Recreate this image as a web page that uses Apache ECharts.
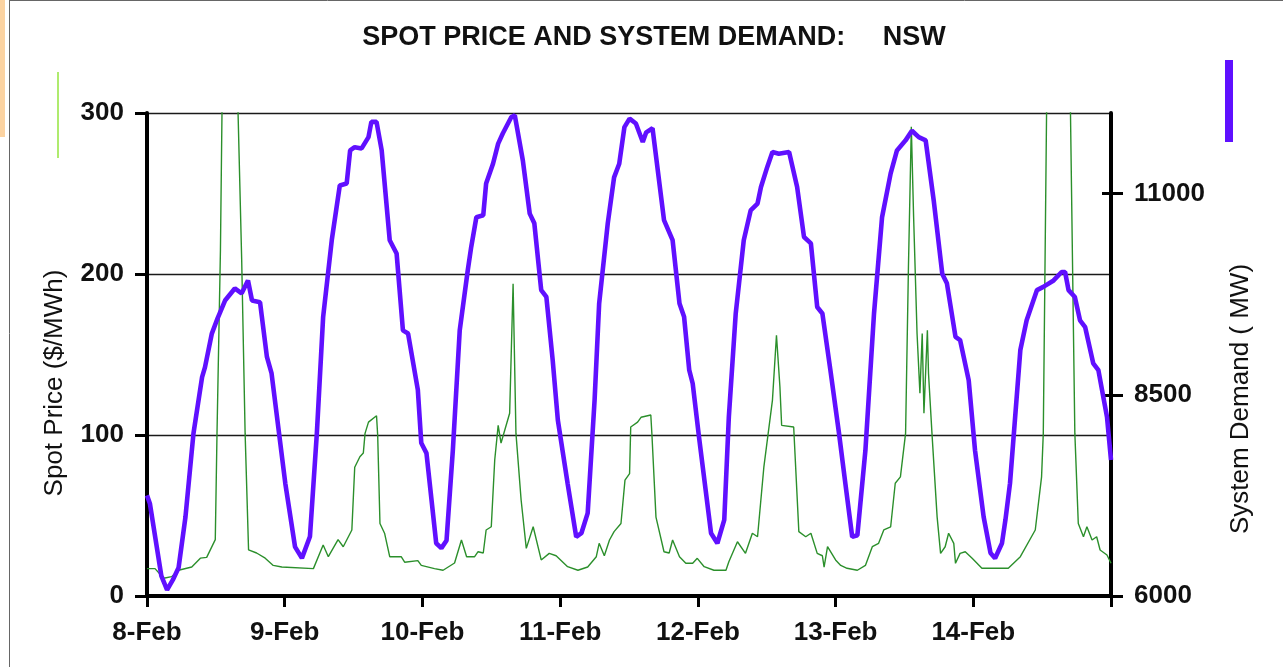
<!DOCTYPE html>
<html>
<head>
<meta charset="utf-8">
<script src="https://cdn.jsdelivr.net/npm/echarts@6.0.0/dist/echarts.min.js"></script>
<style>
  html, body { margin: 0; padding: 0; background: #fff; }
  #chart { width: 1283px; height: 667px; }
</style>
</head>
<body>
<div id="chart"></div>
<script>
// x axis runs in hours from 8-Feb 00:00
const dayLabels = ["8-Feb", "9-Feb", "10-Feb", "11-Feb", "12-Feb", "13-Feb", "14-Feb"];
const demandTicks = [6000, 8500, 11000];

// system demand (MW)
const demandHours = [
  0, 0.5, 1.5, 2.5, 3.5, 4.5, 5.5, 6.7, 8.1, 9.6, 10.1, 11.3, 12.3, 13.6, 15.3, 16.5, 17.6, 18.3,
  19.7, 20.9, 21.7, 24.1, 25.8, 27, 28.4, 29.6, 30.7, 32.2, 33.6, 34.8, 35.4, 36.2, 37.4, 38.6,
  39.1, 40, 40.9, 42.3, 43.5, 44.6, 45.5, 47.2, 47.8, 48.7, 50.4, 51.3, 52.2, 53.3, 54.5, 55.9,
  56.5, 57.4, 58.6, 59.1, 60.3, 61.2, 62, 63.5, 64.1, 65.5, 66.7, 67.5, 68.7, 69.6, 70.7, 71.6,
  73.3, 74.8, 75.7, 76.8, 78, 78.8, 80.3, 81.4, 82.3, 83.2, 84.1, 85.2, 86.4, 87, 88.1, 90.1,
  91.6, 92.8, 93.6, 94.5, 95.1, 96.2, 98.3, 99.4, 100.6, 101.4, 102.6, 104, 105.2, 106.4, 107,
  108.1, 109, 110.1, 111.9, 113.3, 114.5, 115.7, 116.8, 117.7, 119.1, 120.6, 121.7, 122.9, 123.8,
  125.2, 126.7, 128.1, 129.6, 130.7, 132.2, 133.3, 134.5, 135.7, 137.1, 138.6, 139.4, 140.9,
  141.7, 143.2, 144.3, 145.8, 147, 147.8, 149, 149.6, 150.4, 152.2, 153.3, 155.1, 156.2, 158,
  159.4, 160, 160.6, 161.7, 162.6, 163.5, 164.9, 165.8, 167.3, 168
];
const demandMW = [
  7250, 7150, 6700, 6250, 6075, 6200, 6350, 6980, 8020, 8720, 8840, 9260, 9450, 9670, 9820, 9760, 9920, 9670,
  9650, 8970, 8770, 7400, 6610, 6470, 6740, 8020, 9470, 10420, 11100, 11125, 11535, 11575, 11560, 11700,
  11890, 11890, 11535, 10420, 10255, 9300, 9260, 8560, 7900, 7775, 6655, 6595, 6690, 7810, 9300, 10045,
  10335, 10705, 10730, 11125, 11370, 11620, 11745, 11950, 11970, 11410, 10750, 10630, 9800, 9715, 8930, 8185,
  7400, 6735, 6780, 7030, 8430, 9635, 10630, 11200, 11370, 11825, 11930, 11870, 11640, 11760, 11810, 10670,
  10420, 9635, 9470, 8805, 8640, 7975, 6780, 6655, 6945, 8225, 9510, 10420, 10790, 10875, 11080,
  11330, 11515, 11495, 11515, 11080, 10460, 10380, 9590, 9510, 8805, 8020, 7400, 6735, 6755,
  7810, 9510, 10705, 11250, 11535, 11660, 11780, 11700, 11660, 10915, 10000, 9885, 9220,
  9180, 8680, 7810, 6985, 6535, 6470, 6655, 6945, 7400, 9055, 9425, 9800, 9840, 9920,
  10025, 10025, 9800, 9715, 9425, 9340, 8890, 8805, 8225, 7690
];

// spot price ($/MWh), green curve; two spikes run off the top of the scale
const priceHours = [
  0, 1.4, 2.9, 4.3, 5.5, 7.8, 9.3, 10.4, 11.9, 12.2, 12.8, 13.1, 13.5, 15.2, 15.8, 16.5, 17.1, 17.7,
  19.1, 20.6, 22, 23.5, 29, 30.7, 31.6, 33.3, 34.2, 35.7, 36.2, 37.1, 37.7, 38, 38.6, 40, 40.2, 40.6,
  41.4, 42.3, 44.3, 44.9, 47.2, 47.8, 50.1, 51.6, 53.6, 54.8, 55.7, 57.1, 57.7, 58.6, 59.1, 60, 60.6,
  61.2, 61.7, 63.2, 63.8, 64.3, 65.2, 66.1, 67.3, 68.7, 70.1, 71.3, 73.3, 75.1, 76.8, 78.3, 78.8,
  79.7, 80.6, 81.4, 82.6, 83.3, 84.1, 84.3, 85.5, 86.1, 87.8, 88, 88.7, 90.1, 91, 91.6, 92.8, 93.9,
  95.1, 95.9, 97.1, 98.8, 100.9, 101.4, 102.9, 104.3, 105.5, 106.4, 107.5, 109, 109.7, 110.3, 110.6,
  112.7, 113.6, 114.8, 115.7, 116.8, 117.7, 118, 118.6, 120, 120.9, 122, 123.8, 125.2, 126.4, 127.5,
  128.4, 129.6, 130.4, 131.3, 132.2, 132.7, 133.2, 133.6, 134.2, 134.7, 135.1, 135.4, 136, 136.2,
  136.8, 137.7, 138.3, 139.1, 139.7, 140.6, 140.9, 141.7, 142.6, 143.8, 145.5, 150.1, 152.2, 154.8,
  155.9, 156.2, 156.8, 157.3, 160.3, 160.9, 161.7, 162.3, 163.2, 163.8, 164.7, 165.5, 166.1, 167.3, 168
];
const priceDollars = [
  17, 17, 11, 12, 16, 18, 23.5, 24, 35, 101, 215, 310, 700, 700, 310, 209, 101, 28.6,
  26.7, 23.5, 19, 18, 17, 31.7, 24.4, 35, 30.6, 41, 80, 86.5, 88.8, 101, 108, 112, 100, 45,
  39, 24.4, 24.4, 21, 22, 19, 17, 16, 20.5, 34.8, 24.4, 24.4, 27.5, 26.7, 41, 43, 84.5,
  106, 95, 113.5, 194, 101, 59.6, 29.6, 43, 22.4, 26.5, 25, 18.2, 16, 18, 24.4, 32.7,
  25, 34.8, 40, 45, 72, 76, 105, 108, 111, 112.4, 100, 49, 27.5, 26.7, 34.8, 24.4, 20.3,
  20.3, 23.4, 18.2, 16, 16, 21.3, 33.7, 26.5, 39, 36.8, 80, 121.7, 162, 130, 106,
  105, 40, 36.8, 39, 26.5, 25, 18, 30.6, 22.4, 19, 17.2, 16, 19, 30.6, 32.7,
  41, 43, 70, 74, 101, 204.5, 291.5, 235.6, 163, 126, 163, 113.5, 165, 138,
  101, 49, 26.5, 30.6, 39, 32.7, 20.3, 26.5, 27.5, 23.4, 17.2, 17.2, 24.4, 41,
  74, 101, 310, 700, 700, 310, 101, 45, 36.8, 43, 34.8, 36.8, 28.6, 25.5, 20.3
];

const FONT = "'Liberation Sans', Arial, sans-serif";
const chart = echarts.init(document.getElementById("chart"));

chart.setOption({
  animation: false,
  backgroundColor: "#ffffff",
  grid: { left: 147, right: 172, top: 113, bottom: 71 },
  xAxis: {
    type: "value",
    min: 0,
    max: 168,
    interval: 24,
    axisLine: { show: true, lineStyle: { color: "#000", width: 4 } },
    axisTick: { show: true, length: 11, lineStyle: { color: "#000", width: 3 } },
    axisLabel: {
      margin: 24,
      color: "#111",
      fontFamily: FONT,
      fontSize: 26,
      fontWeight: "bold",
      formatter: (v) => dayLabels[Math.round(v / 24)] || ""
    },
    splitLine: { show: false }
  },
  yAxis: [
    {
      type: "value",
      min: 0,
      max: 300,
      interval: 100,
      position: "left",
      axisLine: { show: true, lineStyle: { color: "#000", width: 4 } },
      axisTick: { show: true, length: 12, lineStyle: { color: "#000", width: 3 } },
      axisLabel: { margin: 23, color: "#111", fontFamily: FONT, fontSize: 26, fontWeight: "bold" },
      splitLine: { show: true, lineStyle: { color: "#1a1a1a", width: 1.3 } }
    },
    {
      type: "value",
      min: 6000,
      max: 12000,
      position: "right",
      axisLine: { show: true, lineStyle: { color: "#000", width: 4 } },
      axisTick: { show: true, length: 12, customValues: demandTicks, lineStyle: { color: "#000", width: 3 } },
      axisLabel: {
        margin: 23,
        color: "#111",
        fontFamily: FONT,
        fontSize: 26,
        fontWeight: "bold",
        customValues: demandTicks,
        formatter: (v) => String(v)
      },
      splitLine: { show: false }
    },
    {
      // inner half of the cross ticks on the right axis
      type: "value",
      min: 6000,
      max: 12000,
      position: "right",
      axisLine: { show: false },
      axisTick: { show: true, inside: true, length: 9, customValues: demandTicks, lineStyle: { color: "#000", width: 3 } },
      axisLabel: { show: false },
      splitLine: { show: false }
    }
  ],
  series: [
    {
      name: "Spot Price",
      type: "line",
      yAxisIndex: 0,
      showSymbol: false,
      clip: true,
      lineStyle: { color: "#2b8f2b", width: 1.4 },
      data: priceHours.map((h, i) => [h, priceDollars[i]])
    },
    {
      name: "System Demand",
      type: "line",
      yAxisIndex: 1,
      showSymbol: false,
      clip: true,
      lineStyle: { color: "#6010ff", width: 4.6 },
      data: demandHours.map((h, i) => [h, demandMW[i]])
    }
  ],
  graphic: [
    { type: "rect", shape: { x: 0, y: 0, width: 5, height: 137 }, style: { fill: "#fcd3a1" } },
    { type: "line", shape: { x1: 9.5, y1: 0, x2: 9.5, y2: 667 }, style: { stroke: "#666", lineWidth: 1 } },
    { type: "line", shape: { x1: 9, y1: 0.5, x2: 1283, y2: 0.5 }, style: { stroke: "#666", lineWidth: 1 } },
    { type: "line", shape: { x1: 58, y1: 72, x2: 58, y2: 158 }, style: { stroke: "#9be64a", lineWidth: 1.6 } },
    { type: "rect", shape: { x: 1225, y: 60, width: 8, height: 82 }, style: { fill: "#5f10ff" } },
    {
      type: "text",
      x: 654,
      y: 38,
      style: {
        text: "SPOT PRICE AND SYSTEM DEMAND:     NSW",
        fill: "#111",
        font: "bold 27px " + FONT,
        textAlign: "center",
        textVerticalAlign: "middle"
      }
    },
    {
      type: "text",
      x: 55,
      y: 383,
      rotation: Math.PI / 2,
      style: {
        text: "Spot Price ($/MWh)",
        fill: "#111",
        font: "26px " + FONT,
        textAlign: "center",
        textVerticalAlign: "middle"
      }
    },
    {
      type: "text",
      x: 1241,
      y: 399,
      rotation: Math.PI / 2,
      style: {
        text: "System Demand ( MW)",
        fill: "#111",
        font: "26px " + FONT,
        textAlign: "center",
        textVerticalAlign: "middle"
      }
    }
  ]
});
</script>
</body>
</html>
